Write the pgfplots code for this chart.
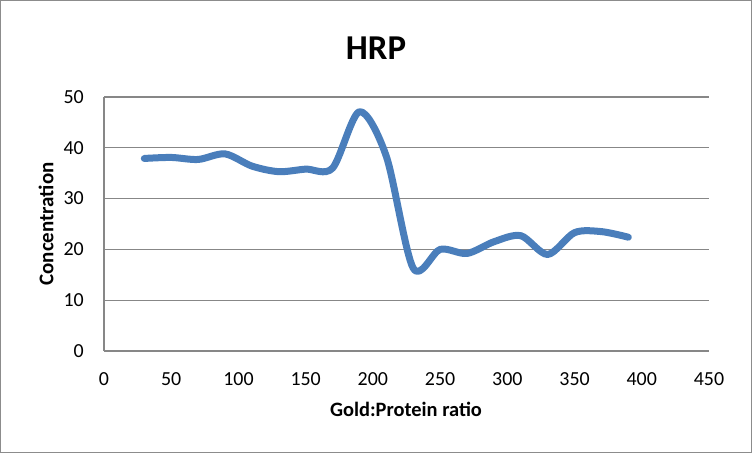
\documentclass[border=0pt]{standalone}
\usepackage{fontspec}
\setmainfont{Carlito}
\usepackage{pgfplots}
\pgfplotsset{compat=1.18}
\definecolor{linecol}{HTML}{4A7EBB}
\definecolor{gridcol}{HTML}{878787}
\definecolor{framecol}{HTML}{8C8C8C}
\begin{document}
\begin{tikzpicture}[x=1bp,y=1bp]
\useasboundingbox (0,0) rectangle (752,453);
\draw[color=framecol, line width=1bp] (0.5,0.5) rectangle (751.5,452.5);
\begin{axis}[
  at={(104bp,102bp)}, anchor=south west,
  scale only axis, width=605bp, height=254bp,
  xmin=0, xmax=450, ymin=0, ymax=50,
  xtick={0,50,...,450}, ytick={0,10,...,50},
  axis x line*=bottom, axis y line*=left,
  axis line style={gridcol, line width=1.2bp, -},
  ymajorgrids, grid style={gridcol, line width=1.2bp},
  major tick length=0pt,
  tick label style={font=\fontsize{20}{24}\selectfont, text=black},
  /pgf/number format/assume math mode=true,
  xticklabel style={anchor=base, inner sep=0pt, yshift=-35bp},
  yticklabel style={anchor=east, inner sep=0pt, xshift=-20bp},
  clip=false,
]
\addplot[color=linecol, line width=7bp, smooth, tension=0.5, line cap=round, line join=round] coordinates {
(30,37.9) (50,38.1) (70,37.7) (90,38.8) (110,36.4) (130,35.3) (150,35.8) (170,36.0)
(190,47.1) (210,38.3) (230,16.3) (250,20.0) (270,19.2) (290,21.5) (310,22.7)
(330,19.0) (350,23.3) (370,23.5) (390,22.4)
};
\end{axis}
\node[font=\bfseries\fontsize{35}{42}\selectfont, anchor=base, inner sep=0pt] at (376,393.5) {HRP};
\node[font=\bfseries\fontsize{20.5}{24}\selectfont, anchor=base] at (406,36) {Gold:Protein ratio};
\node[font=\bfseries\fontsize{21}{24}\selectfont, rotate=90, anchor=center] at (46,229) {Concentration};
\end{tikzpicture}
\end{document}
